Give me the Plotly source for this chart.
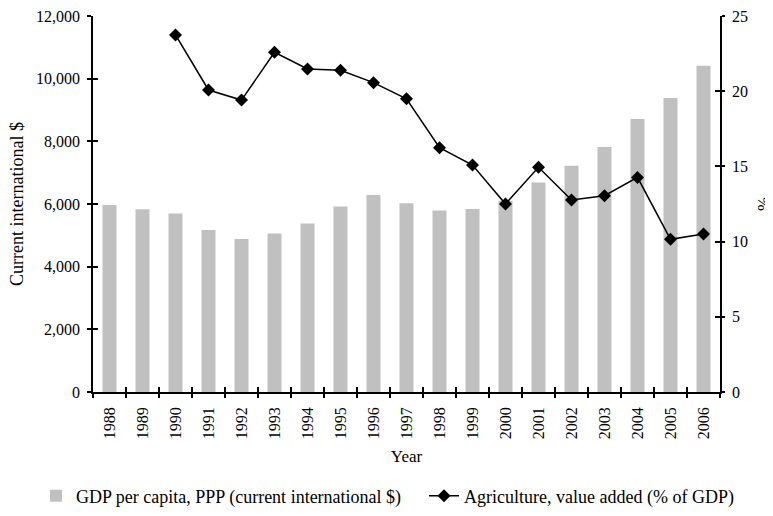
import plotly.graph_objects as go

years = [str(y) for y in range(1988, 2007)]
gdp_ppp = [5970, 5830, 5700, 5170, 4880, 5060, 5380, 5920, 6290, 6020,
           5790, 5840, 6100, 6690, 7220, 7820, 8710, 9380, 10410]
agri_share = [None, None, 23.74, 20.08, 19.41, 22.59, 21.48, 21.39, 20.57, 19.50,
              16.24, 15.09, 12.50, 14.94, 12.77, 13.05, 14.27, 10.15, 10.51]

FONT = "Liberation Serif"
x_range = [-0.5, len(years) - 0.5]

fig = go.Figure()
fig.add_trace(go.Bar(
    x=years, y=gdp_ppp, name="GDP per capita, PPP (current international $)",
    marker=dict(color="#c0c0c0", line=dict(width=0)),
    xaxis="x", yaxis="y", legendwidth=343,
))
fig.add_trace(go.Scatter(
    x=years, y=agri_share, name="Agriculture, value added (% of GDP)",
    mode="lines+markers", line=dict(color="black", width=1.5),
    marker=dict(symbol="diamond", size=10, color="black"),
    xaxis="x", yaxis="y2", connectgaps=False,
))
# invisible helper traces so overlay axes (inside tick halves) are drawn
fig.add_trace(go.Scatter(x=years, y=[None] * len(years), xaxis="x3", yaxis="y3",
                         showlegend=False, hoverinfo="skip", mode="markers"))
fig.add_trace(go.Scatter(x=years, y=[None] * len(years), xaxis="x3", yaxis="y4",
                         showlegend=False, hoverinfo="skip", mode="markers"))

axis_common = dict(showgrid=False, zeroline=False, color="black", automargin=False,
                   ticklabeloverflow="allow",
                   tickfont=dict(family=FONT, size=16, color="black"))
overlay_common = dict(showline=False, showticklabels=False, showgrid=False,
                      zeroline=False, automargin=False, tickwidth=1.5, tickcolor="black")

# page body adds an 8px offset, so the figure is 8px smaller than the window
fig.update_layout(
    width=765, height=508,
    margin=dict(l=85, r=53, t=8, b=124, autoexpand=False),
    paper_bgcolor="white", plot_bgcolor="white",
    font=dict(family=FONT, size=16, color="black"),
    bargap=0.575,
    showlegend=True,
    legend=dict(orientation="h", x=-0.0909, xanchor="left", y=-0.2766, yanchor="middle",
                font=dict(family=FONT, size=18, color="black"),
                bgcolor="rgba(0,0,0,0)"),
    xaxis=dict(type="category", categoryorder="array", categoryarray=years,
               range=x_range,
               tickson="boundaries", ticks="outside", ticklen=4, tickwidth=1.5,
               tickcolor="black", showline=True, linecolor="black", linewidth=1.5,
               tickangle=-90, anchor="y", ticklabelstandoff=7,
               title=dict(text="Year", font=dict(family=FONT, size=17), standoff=12),
               **axis_common),
    xaxis3=dict(type="category", categoryorder="array", categoryarray=years,
                range=x_range,
                overlaying="x", anchor="y", tickson="boundaries", ticks="inside",
                ticklen=5, **overlay_common),
    yaxis=dict(range=[0, 12000], tick0=0, dtick=2000, tickformat=",",
               ticks="outside", ticklen=4, tickwidth=1.5, tickcolor="black",
               showline=True, linecolor="black", linewidth=1.5, anchor="x",
               ticklabelstandoff=4, **axis_common),
    yaxis3=dict(range=[0, 12000], tick0=0, dtick=2000, overlaying="y", anchor="x",
                side="left", ticks="inside", ticklen=5, **overlay_common),
    yaxis2=dict(range=[0, 25], tick0=0, dtick=5, overlaying="y", side="right",
                anchor="x", ticks="outside", ticklen=3, tickwidth=1.5, tickcolor="black",
                showline=True, linecolor="black", linewidth=1.5, ticklabelstandoff=4,
                **axis_common),
    yaxis4=dict(range=[0, 25], tick0=0, dtick=5, overlaying="y", side="right",
                anchor="x", ticks="inside", ticklen=5, **overlay_common),
    annotations=[
        dict(text="Current international $", xref="paper", yref="paper",
             x=-0.1212, y=0.5, xanchor="center", yanchor="middle", textangle=-90,
             showarrow=False, font=dict(family=FONT, size=18, color="black")),
        dict(text="%", xref="paper", yref="paper",
             x=1.0686, y=0.5, xanchor="center", yanchor="middle", textangle=-90,
             showarrow=False, font=dict(family=FONT, size=17, color="black")),
    ],
)

fig.write_html("out.html")
